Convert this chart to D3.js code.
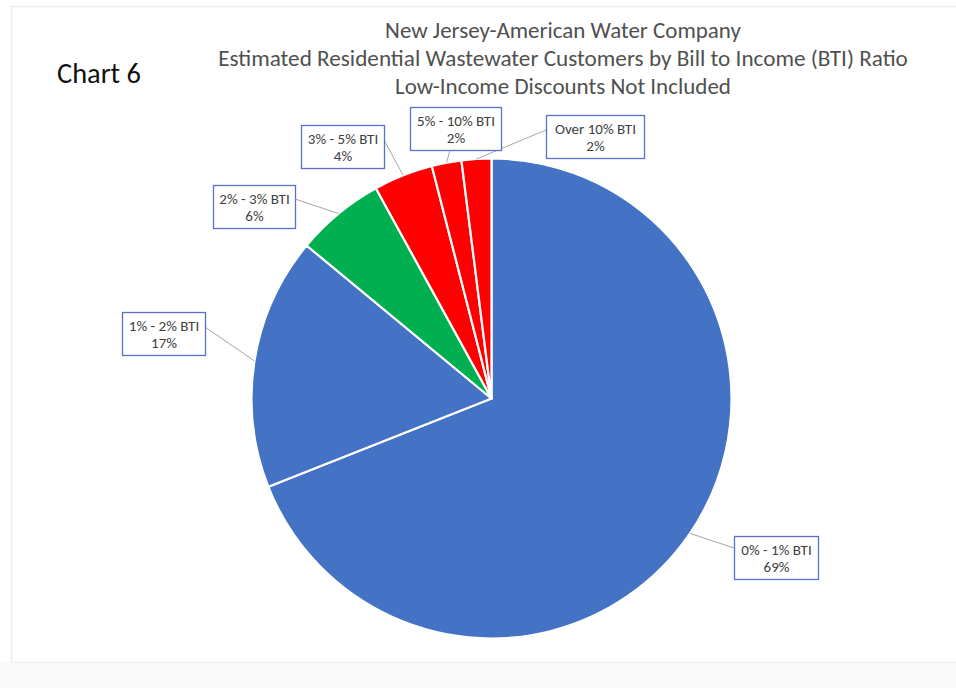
<!DOCTYPE html>
<html>
<head>
<meta charset="utf-8">
<script src="https://cdn.jsdelivr.net/npm/d3@7"></script>
<style>
  html, body { margin: 0; padding: 0; background: #ffffff; }
  svg { display: block; }
</style>
</head>
<body>
<svg id="chart" width="956" height="688"></svg>
<script>
// Share of residential wastewater customers by bill-to-income band
const categories = ["0% - 1% BTI", "1% - 2% BTI", "2% - 3% BTI", "3% - 5% BTI", "5% - 10% BTI", "Over 10% BTI"];
const shares = [69, 17, 6, 4, 2, 2];
const sliceColors = ["#4472C4", "#4472C4", "#00B050", "#FF0000", "#FF0000", "#FF0000"];
const titleLines = [
  "New Jersey-American Water Company",
  "Estimated Residential Wastewater Customers by Bill to Income (BTI) Ratio",
  "Low-Income Discounts Not Included"
];
const chartTag = "Chart 6";

// label box placement (top-left corner, width, height)
const labelBoxes = [
  { x: 734, y: 536, w: 84, h: 43 },
  { x: 122, y: 312, w: 83, h: 43 },
  { x: 213, y: 185, w: 82, h: 43 },
  { x: 301, y: 125, w: 83, h: 43 },
  { x: 410, y: 107, w: 91, h: 43 },
  { x: 546, y: 115, w: 98, h: 43 }
];
// point on the box where the leader line attaches
const leaderEnds = [
  { x: 734, y: 548 },
  { x: 205, y: 327 },
  { x: 295, y: 199 },
  { x: 384, y: 140 },
  { x: 450, y: 150 },
  { x: 546, y: 130 }
];

const svg = d3.select("#chart");
const font = "Carlito, Calibri, Lato, 'Open Sans', 'Liberation Sans', sans-serif";

// faint frame around the chart area
svg.append("rect")
  .attr("x", 11.5).attr("y", 6.5)
  .attr("width", 950).attr("height", 656)
  .attr("fill", "#ffffff")
  .attr("stroke", "#ececec")
  .attr("stroke-width", 1.5);
svg.append("rect")
  .attr("x", 0).attr("y", 663)
  .attr("width", 956).attr("height", 25)
  .attr("fill", "#fafafa");

// title lines, each fitted to its width
const titleWidths = [356, 690, 336];
const titleY = [38, 66, 94];
titleLines.forEach((t, i) => {
  const el = svg.append("text")
    .attr("x", 563).attr("y", titleY[i])
    .attr("text-anchor", "middle")
    .attr("font-family", font)
    .attr("font-size", 19)
    .attr("fill", "#505050")
    .text(t);
  const w = el.node().getComputedTextLength();
  el.attr("font-size", 19 * titleWidths[i] / w);
});

const tag = svg.append("text")
  .attr("x", 57).attr("y", 83)
  .attr("font-family", font)
  .attr("font-size", 24)
  .attr("fill", "#111111")
  .text(chartTag);
{
  const w = tag.node().getComputedTextLength();
  tag.attr("font-size", 24 * 84 / w);
}

// pie
const cx = 491.5, cy = 398.5, radius = 240;
const pie = d3.pie().sort(null).value(d => d)(shares);
const arc = d3.arc().innerRadius(0).outerRadius(radius);

const g = svg.append("g").attr("transform", `translate(${cx},${cy})`);
g.selectAll("path.slice")
  .data(pie)
  .join("path")
  .attr("class", "slice")
  .attr("d", arc)
  .attr("fill", (d, i) => sliceColors[i])
  .attr("stroke", "#ffffff")
  .attr("stroke-width", 2.2)
  .attr("stroke-linejoin", "round");

// leader lines from slice edge to label box
const edgeArc = d3.arc().innerRadius(radius).outerRadius(radius);
pie.forEach((d, i) => {
  const [px, py] = edgeArc.centroid(d);
  svg.append("line")
    .attr("x1", cx + px).attr("y1", cy + py)
    .attr("x2", leaderEnds[i].x).attr("y2", leaderEnds[i].y)
    .attr("stroke", "#a6a6a6")
    .attr("stroke-width", 1);
});

// data labels
const fmt = d3.format(".0%");
const labelSize = 15;
labelBoxes.forEach((b, i) => {
  const lg = svg.append("g");
  lg.append("rect")
    .attr("x", b.x + 0.5).attr("y", b.y + 0.5)
    .attr("width", b.w).attr("height", b.h)
    .attr("fill", "#ffffff")
    .attr("stroke", "#5b6fd0")
    .attr("stroke-width", 1.3);
  lg.append("text")
    .attr("x", b.x + b.w / 2 + 0.5).attr("y", b.y + 18.5)
    .attr("text-anchor", "middle")
    .attr("font-family", font)
    .attr("font-size", labelSize)
    .attr("fill", "#404040")
    .text(categories[i]);
  lg.append("text")
    .attr("x", b.x + b.w / 2 + 0.5).attr("y", b.y + 35.5)
    .attr("text-anchor", "middle")
    .attr("font-family", font)
    .attr("font-size", labelSize)
    .attr("fill", "#404040")
    .text(fmt(shares[i] / 100));
});
</script>
</body>
</html>
